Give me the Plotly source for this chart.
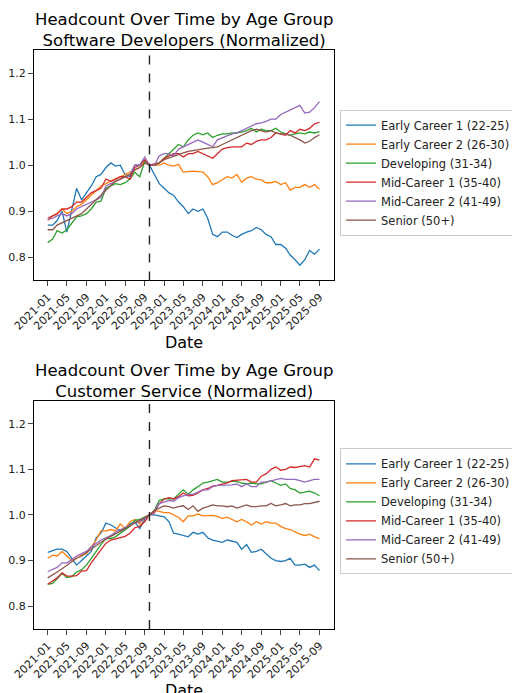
import pandas as pd
import plotly.graph_objects as go
from plotly.subplots import make_subplots

dates = pd.date_range("2021-01-01", periods=57, freq="MS")
groups = ["Early Career 1 (22-25)", "Early Career 2 (26-30)", "Developing (31-34)",
          "Mid-Career 1 (35-40)", "Mid-Career 2 (41-49)", "Senior (50+)"]
colors = ["#1f77b4", "#ff7f0e", "#2ca02c", "#d62728", "#9467bd", "#8c564b"]
tick_vals = pd.date_range("2021-01-01", "2025-09-01", freq="4MS")

# Software developers
sd_early1 = [0.87,0.87,0.88,0.90,0.855,0.90,0.95,0.925,0.94,0.955,0.975,0.98,0.995,1.005,0.998,1.0,0.98,0.975,1.0,1.0,1.01,1.0,
             0.98,0.96,0.95,0.94,0.935,0.92,0.91,0.895,0.905,0.90,0.905,0.885,0.85,0.845,0.855,0.855,0.848,0.843,0.85,0.855,
             0.858,0.865,0.86,0.85,0.845,0.828,0.828,0.82,0.805,0.795,0.783,0.795,0.815,0.807,0.818]
sd_early2 = [0.88,0.89,0.895,0.905,0.895,0.90,0.91,0.915,0.925,0.935,0.945,0.955,0.96,0.965,0.97,0.975,0.98,0.985,0.99,0.995,1.01,1.0,
             1.0,1.0,1.005,1.0,0.998,1.002,0.985,0.986,0.987,0.986,0.985,0.975,0.958,0.962,0.968,0.975,0.972,0.98,0.963,0.972,
             0.975,0.97,0.968,0.962,0.962,0.965,0.958,0.962,0.946,0.952,0.952,0.958,0.952,0.958,0.948]
sd_dev = [0.832,0.84,0.858,0.853,0.86,0.875,0.888,0.89,0.895,0.905,0.92,0.922,0.95,0.955,0.96,0.958,0.962,0.97,0.985,0.975,1.008,1.0,
          1.0,1.005,1.015,1.025,1.035,1.045,1.04,1.055,1.065,1.07,1.066,1.07,1.06,1.065,1.068,1.068,1.07,1.07,1.072,1.075,
          1.08,1.072,1.078,1.075,1.075,1.08,1.072,1.068,1.065,1.068,1.07,1.068,1.072,1.07,1.073]
sd_mid1 = [0.885,0.89,0.895,0.905,0.905,0.91,0.92,0.92,0.93,0.94,0.945,0.95,0.97,0.965,0.97,0.975,0.975,0.97,0.995,1.0,1.012,1.0,
           1.003,1.005,1.015,1.02,1.025,1.025,1.018,1.025,1.025,1.03,1.025,1.02,1.015,1.025,1.035,1.038,1.04,1.04,1.04,1.048,
           1.045,1.052,1.055,1.055,1.06,1.07,1.068,1.065,1.075,1.07,1.078,1.075,1.08,1.09,1.093]
sd_mid2 = [0.882,0.885,0.89,0.895,0.89,0.895,0.905,0.91,0.915,0.92,0.925,0.93,0.955,0.96,0.965,0.97,0.975,0.98,1.0,1.0,1.018,1.0,
           1.0,1.02,1.025,1.025,1.02,1.035,1.04,1.045,1.05,1.055,1.05,1.045,1.04,1.055,1.06,1.065,1.068,1.07,1.075,1.08,
           1.085,1.09,1.092,1.095,1.1,1.1,1.11,1.115,1.12,1.125,1.13,1.113,1.115,1.125,1.138]
sd_senior = [0.86,0.86,0.87,0.875,0.88,0.885,0.89,0.895,0.905,0.915,0.925,0.935,0.945,0.955,0.965,0.97,0.975,0.98,0.99,0.995,1.005,1.0,
             1.0,1.005,1.012,1.016,1.02,1.024,1.027,1.03,1.032,1.034,1.035,1.037,1.038,1.04,1.045,1.05,1.055,1.06,1.065,1.07,
             1.075,1.078,1.075,1.072,1.075,1.07,1.068,1.068,1.065,1.06,1.055,1.048,1.052,1.06,1.066]

# Customer service
cs_early1 = [0.918,0.922,0.925,0.925,0.92,0.905,0.89,0.9,0.91,0.92,0.95,0.96,0.982,0.978,0.972,0.965,0.97,0.98,0.985,0.97,0.99,1.0,
             1.0,0.998,0.996,0.985,0.96,0.958,0.955,0.952,0.962,0.958,0.962,0.95,0.945,0.943,0.94,0.945,0.943,0.94,0.925,0.935,
             0.918,0.92,0.925,0.915,0.905,0.9,0.898,0.9,0.905,0.89,0.89,0.892,0.885,0.89,0.878]
cs_early2 = [0.905,0.912,0.91,0.92,0.91,0.9,0.905,0.912,0.915,0.93,0.945,0.965,0.965,0.968,0.965,0.98,0.97,0.985,0.99,0.98,0.995,1.0,
             1.01,1.008,1.005,1.005,1.0,0.995,0.985,0.998,0.998,1.002,0.998,0.998,0.999,0.997,0.992,0.995,0.99,0.985,0.99,0.985,
             0.978,0.985,0.98,0.985,0.982,0.982,0.975,0.97,0.968,0.962,0.958,0.955,0.958,0.952,0.948]
cs_dev = [0.848,0.85,0.86,0.872,0.863,0.865,0.875,0.88,0.89,0.905,0.92,0.935,0.948,0.948,0.952,0.96,0.968,0.975,0.988,0.99,0.995,1.0,
          1.01,1.032,1.035,1.036,1.035,1.045,1.055,1.045,1.055,1.062,1.07,1.072,1.075,1.078,1.072,1.072,1.074,1.073,1.07,1.068,
          1.07,1.068,1.068,1.072,1.075,1.07,1.065,1.068,1.058,1.055,1.048,1.05,1.052,1.048,1.042]
cs_mid1 = [0.848,0.855,0.862,0.873,0.866,0.866,0.867,0.877,0.878,0.895,0.91,0.925,0.938,0.945,0.948,0.95,0.953,0.96,0.972,0.975,0.985,1.0,
           1.005,1.025,1.035,1.038,1.035,1.04,1.048,1.042,1.043,1.048,1.055,1.058,1.063,1.065,1.068,1.07,1.075,1.076,1.078,1.078,
           1.072,1.072,1.085,1.09,1.1,1.105,1.098,1.1,1.105,1.104,1.106,1.108,1.105,1.123,1.12]
cs_mid2 = [0.876,0.88,0.885,0.895,0.895,0.902,0.91,0.915,0.92,0.93,0.938,0.945,0.95,0.955,0.962,0.968,0.972,0.978,0.983,0.985,0.992,1.0,
           1.008,1.025,1.028,1.032,1.03,1.038,1.042,1.045,1.045,1.05,1.055,1.055,1.062,1.065,1.065,1.065,1.066,1.068,1.062,1.068,
           1.062,1.062,1.072,1.072,1.075,1.078,1.08,1.078,1.078,1.078,1.075,1.072,1.075,1.078,1.078]
cs_senior = [0.862,0.868,0.875,0.882,0.89,0.897,0.905,0.91,0.918,0.925,0.932,0.94,0.947,0.953,0.958,0.963,0.97,0.975,0.982,0.988,0.994,1.0,
             1.01,1.015,1.02,1.018,1.015,1.018,1.02,1.012,1.02,1.008,1.015,1.018,1.022,1.02,1.02,1.018,1.02,1.015,1.018,1.022,
             1.018,1.018,1.02,1.02,1.025,1.02,1.022,1.025,1.02,1.022,1.022,1.025,1.025,1.028,1.03]

sd_series = [sd_early1, sd_early2, sd_dev, sd_mid1, sd_mid2, sd_senior]
cs_series = [cs_early1, cs_early2, cs_dev, cs_mid1, cs_mid2, cs_senior]
base_date = "2022-10-01"

fig = make_subplots(rows=2, cols=1)
fig.update_yaxes(domain=[0.602, 1.0], row=1, col=1)
fig.update_yaxes(domain=[0.0, 0.394], row=2, col=1)

for row, series, leg in [(1, sd_series, "legend"), (2, cs_series, "legend2")]:
    for name, vals, c in zip(groups, series, colors):
        fig.add_trace(go.Scatter(x=dates, y=vals, mode="lines", name=name, legend=leg,
                                 line=dict(color=c, width=1.3)), row=row, col=1)
    fig.add_vline(x=base_date, line=dict(color="#222", width=1.4, dash="dash"), row=row, col=1)

axis_font = dict(family="DejaVu Sans", size=11, color="#222")
fig.update_xaxes(tickvals=tick_vals, ticktext=[d.strftime("%Y-%m") for d in tick_vals],
                 tickangle=-45, range=["2020-10-07", "2025-12-01"], showgrid=False,
                 showline=True, mirror=True, linecolor="black", ticks="outside",
                 tickfont=axis_font, zeroline=False, automargin=False,
                 title=dict(text="Date", font=dict(family="DejaVu Sans", size=16, color="black"), standoff=4))
fig.update_yaxes(range=[0.75, 1.25], tickvals=[0.8, 0.9, 1.0, 1.1, 1.2], ticktext=["0.8", "0.9", "1.0", "1.1", "1.2"],
                 showgrid=False, showline=True, mirror=True, linecolor="black", ticks="outside",
                 tickfont=axis_font, zeroline=False, automargin=False)

title_font = dict(family="DejaVu Sans", size=16.5, color="black")
fig.add_annotation(text="Headcount Over Time by Age Group<br>Software Developers (Normalized)",
                   xref="paper", yref="paper", x=0.5, y=1.0, yshift=-2, yanchor="bottom",
                   showarrow=False, font=title_font)
fig.add_annotation(text="Headcount Over Time by Age Group<br>Customer Service (Normalized)",
                   xref="paper", yref="paper", x=0.5, y=0.394, yshift=-2, yanchor="bottom",
                   showarrow=False, font=title_font)

leg_style = dict(x=1.02, xanchor="left", yanchor="top", bordercolor="#ccc", borderwidth=1,
                 font=dict(family="DejaVu Sans", size=11.5, color="#222"), bgcolor="white", tracegroupgap=0)
fig.update_layout(
    width=520, height=693, template="plotly_white", plot_bgcolor="white",
    margin=dict(l=26, r=188, t=42, b=72),
    legend=dict(y=0.897, **leg_style),
    legend2=dict(y=0.312, **leg_style),
)
fig.write_html("out.html")
